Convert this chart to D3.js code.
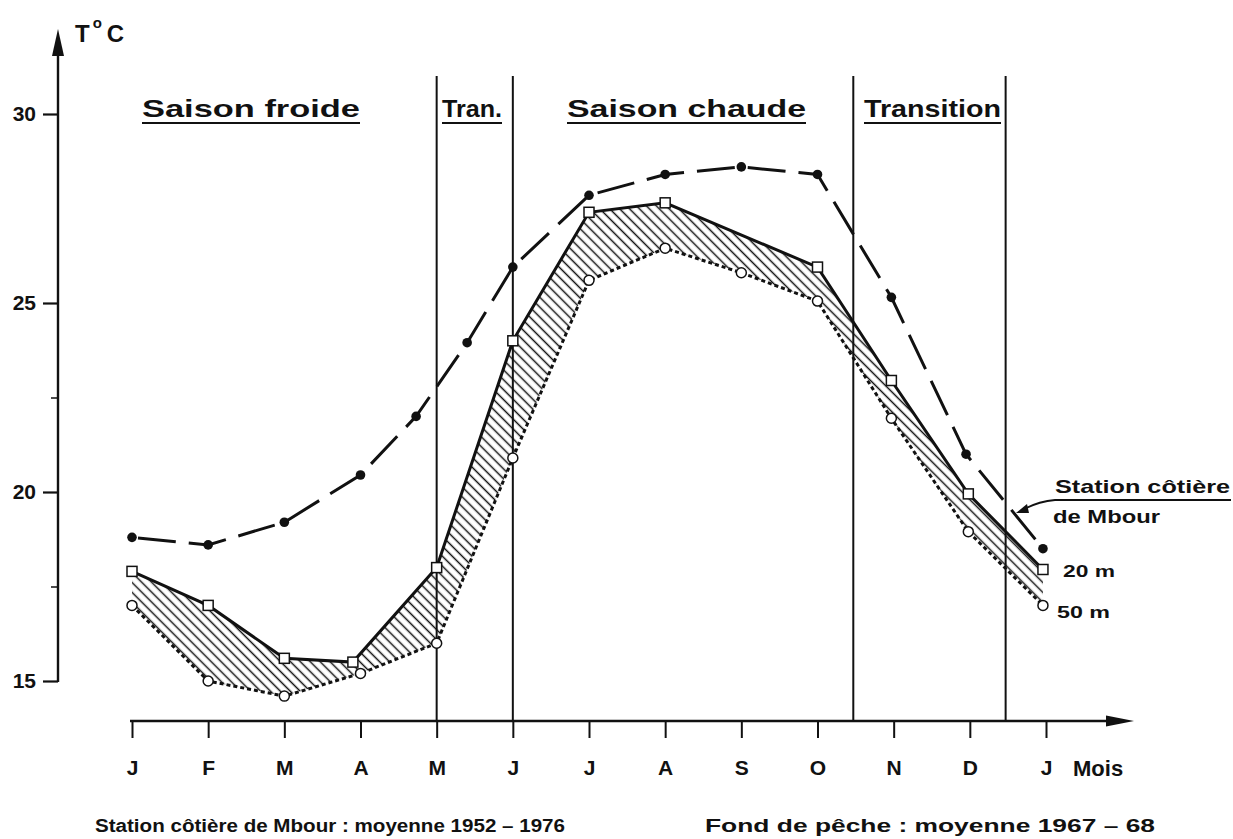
<!DOCTYPE html>
<html><head><meta charset="utf-8">
<script src="https://cdn.jsdelivr.net/npm/d3@7"></script>
<style>
html,body{margin:0;padding:0;background:#fff;}
text{font-family:"Liberation Sans",Arial,sans-serif;fill:#111;}
</style></head>
<body><svg id="c" width="1233" height="839"></svg>
<script>
// ---- data ----
const months = ["J","F","M","A","M","J","J","A","S","O","N","D","J"];
const yTicks = [15,20,25,30];
const yMinorTicks = [17.5,22.5];
// Station côtière de Mbour (dashed, black dots)
const stationX = [0,1,2,3,3.73,4.4,5,6,7,8,9,9.97,10.95,11.96];
const stationT = [18.8,18.6,19.2,20.45,22.0,23.95,25.95,27.85,28.4,28.6,28.4,25.15,21.0,18.5];
// 20 m (solid, squares)
const t20X = [0,1,2,2.9,4,5,6,7,9,9.97,10.98,11.96];
const t20T = [17.9,17.0,15.6,15.5,18.0,24.0,27.4,27.65,25.95,22.95,19.95,17.95];
// 50 m (dotted, circles)
const t50X = [0,1,2,3,4,5,6,7,8,9,9.97,10.98,11.96];
const t50T = [17.0,15.0,14.6,15.2,16.0,20.9,25.6,26.45,25.8,25.05,21.95,18.95,17.0];
// season boundaries (month index)
const seasonBounds = [4,5,9.47,11.47];
const seasons = ["Saison froide","Tran.","Saison chaude","Transition"];
const captions = ["Station côtière de Mbour : moyenne 1952 – 1976","Fond  de pêche :  moyenne  1967 – 68"];
const legendLabels = ["Station côtière","de Mbour","20 m","50 m"];

// ---- scales ----
const svg = d3.select("#c");
svg.append("rect").attr("width",1233).attr("height",839).attr("fill","#fff");
const x = d3.scaleLinear().domain([0,12]).range([132,1046]);
const y = d3.scaleLinear().domain([15,30]).range([681,114]);
const ink = "#111";

// hatch pattern
const defs = svg.append("defs");
const pat = defs.append("pattern").attr("id","hatch").attr("patternUnits","userSpaceOnUse")
  .attr("width",7).attr("height",7).attr("patternTransform","rotate(45)");
pat.append("line").attr("x1",0).attr("y1",3.5).attr("x2",7).attr("y2",3.5)
  .attr("stroke",ink).attr("stroke-width",1.5);

// ---- y axis ----
const yAxis = d3.axisLeft(y).tickValues(yTicks).tickSize(15).tickPadding(7).tickSizeOuter(0);
const gy = svg.append("g").attr("transform","translate(58,0)").call(yAxis);
gy.select(".domain").remove();
gy.selectAll(".tick line").attr("stroke",ink).attr("stroke-width",2.2);
gy.selectAll(".tick text").attr("font-size",21).attr("font-weight","bold").attr("font-family","Liberation Sans, Arial, sans-serif").attr("fill",ink);
const gym = svg.append("g").attr("transform","translate(58,0)")
  .call(d3.axisLeft(y).tickValues(yMinorTicks).tickSize(7).tickFormat(""));
gym.select(".domain").remove();
gym.selectAll(".tick line").attr("stroke",ink).attr("stroke-width",1.5);
svg.append("line").attr("x1",58).attr("x2",58).attr("y1",y(15)+1).attr("y2",50)
  .attr("stroke",ink).attr("stroke-width",2.4);
svg.append("path").attr("d","M58,29 L52,56 L64,56 Z").attr("fill",ink);
// T°C
const tc = svg.append("text").attr("x",75).attr("y",42).attr("font-size",24).attr("font-weight","bold");
tc.append("tspan").text("T");
tc.append("tspan").attr("dy",-14).attr("dx",3).attr("font-size",15).text("o");
tc.append("tspan").attr("dy",14).attr("dx",5).text("C");

// ---- x axis ----
const xAxis = d3.axisBottom(x).tickValues(d3.range(13)).tickFormat(i=>months[i]).tickSize(17).tickPadding(22).tickSizeOuter(0);
const gx = svg.append("g").attr("transform","translate(0,721)").call(xAxis);
gx.select(".domain").remove();
gx.selectAll(".tick line").attr("stroke",ink).attr("stroke-width",2);
gx.selectAll(".tick text").attr("font-size",21).attr("font-weight","bold").attr("font-family","Liberation Sans, Arial, sans-serif").attr("fill",ink).attr("dy","0.72em");
svg.append("line").attr("x1",130).attr("x2",1110).attr("y1",721).attr("y2",721).attr("stroke",ink).attr("stroke-width",2.4);
svg.append("path").attr("d","M1134,721 L1106,715.5 L1106,726.5 Z").attr("fill",ink);
svg.append("text").attr("x",1073).attr("y",776).attr("font-size",22).attr("font-weight","bold").text("Mois");

// ---- season boundaries & titles ----
svg.selectAll("line.season").data(seasonBounds).join("line").attr("class","season")
  .attr("x1",d=>x(d)).attr("x2",d=>x(d)).attr("y1",76).attr("y2",721)
  .attr("stroke",ink).attr("stroke-width",2);
const titlePos = [[142,218],[442,60],[567,239],[864,137]];
seasons.forEach((s,i)=>{
  const [tx,tw] = titlePos[i];
  svg.append("text").attr("x",tx).attr("y",117).attr("font-size",24).attr("font-weight","bold")
    .attr("textLength",tw).attr("lengthAdjust","spacingAndGlyphs").text(s);
  svg.append("line").attr("x1",tx).attr("x2",tx+tw).attr("y1",123).attr("y2",123).attr("stroke",ink).attr("stroke-width",2);
});

// ---- hatched area between 20 m and 50 m ----
const p20 = t20X.map((d,i)=>[x(d),y(t20T[i])]);
const p50 = t50X.map((d,i)=>[x(d),y(t50T[i])]);
const poly = p20.concat(p50.slice().reverse());
svg.append("path").attr("d",d3.line()(poly)+"Z").attr("fill","url(#hatch)").attr("stroke","none");

// ---- lines ----
const line = d3.line();
const pSt = stationX.map((d,i)=>[x(d),y(stationT[i])]);
svg.append("path").attr("d",line(pSt)).attr("fill","none").attr("stroke",ink).attr("stroke-width",3)
  .attr("stroke-dasharray","38,13").attr("stroke-dashoffset",-6);
svg.append("path").attr("d",line(p20)).attr("fill","none").attr("stroke",ink).attr("stroke-width",3);
svg.append("path").attr("d",line(p50)).attr("fill","none").attr("stroke",ink).attr("stroke-width",3)
  .attr("stroke-dasharray","4,3");

// markers
svg.selectAll("circle.st").data(pSt).join("circle").attr("class","st")
  .attr("cx",d=>d[0]).attr("cy",d=>d[1]).attr("r",4.8).attr("fill",ink);
svg.selectAll("rect.m20").data(p20).join("rect").attr("class","m20")
  .attr("x",d=>d[0]-5).attr("y",d=>d[1]-5).attr("width",10).attr("height",10)
  .attr("fill","#fff").attr("stroke",ink).attr("stroke-width",1.5);
svg.selectAll("circle.m50").data(p50).join("circle").attr("class","m50")
  .attr("cx",d=>d[0]).attr("cy",d=>d[1]).attr("r",5)
  .attr("fill","#fff").attr("stroke",ink).attr("stroke-width",1.5);

// ---- legend annotations ----
svg.append("text").attr("x",1055).attr("y",493).attr("font-size",19).attr("font-weight","bold")
  .attr("textLength",175).attr("lengthAdjust","spacingAndGlyphs").text(legendLabels[0]);
svg.append("text").attr("x",1053).attr("y",523).attr("font-size",19).attr("font-weight","bold")
  .attr("textLength",107).attr("lengthAdjust","spacingAndGlyphs").text(legendLabels[1]);
svg.append("path").attr("d","M1231,500 L1055,500 Q1040,501 1024,509").attr("fill","none").attr("stroke",ink).attr("stroke-width",1.8);
svg.append("path").attr("d","M1016,513 L1027,504 L1029,513 Z").attr("fill",ink);
svg.append("text").attr("x",1063).attr("y",577).attr("font-size",17).attr("font-weight","bold")
  .attr("textLength",52).attr("lengthAdjust","spacingAndGlyphs").text(legendLabels[2]);
svg.append("text").attr("x",1057).attr("y",618).attr("font-size",17).attr("font-weight","bold")
  .attr("textLength",53).attr("lengthAdjust","spacingAndGlyphs").text(legendLabels[3]);

// ---- captions ----
svg.append("text").attr("x",95).attr("y",832).attr("font-size",18).attr("font-weight","bold")
  .attr("textLength",470).attr("lengthAdjust","spacingAndGlyphs").text(captions[0]);
svg.append("text").attr("x",705).attr("y",832).attr("font-size",18).attr("font-weight","bold")
  .attr("textLength",450).attr("lengthAdjust","spacingAndGlyphs").text(captions[1]);
</script></body></html>
